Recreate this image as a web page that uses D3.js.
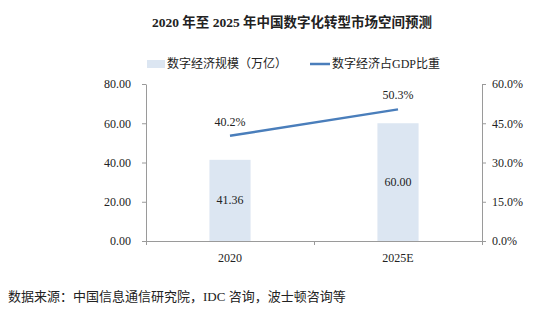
<!DOCTYPE html>
<html><head><meta charset="utf-8">
<script src="https://cdn.jsdelivr.net/npm/d3@7"></script>
<style>
html,body{margin:0;padding:0;background:#fff;}
svg{display:block;}
text{font-family:"Liberation Serif","Noto Sans CJK SC",serif;fill:#222;}
</style></head>
<body>
<svg id="c" width="551" height="335"></svg>
<script>
const title = "2020 年至 2025 年中国数字化转型市场空间预测";
const categories = ["2020", "2025E"];
const scaleValues = [41.36, 60.00];          // 数字经济规模（万亿）
const gdpShare = [0.402, 0.503];             // 数字经济占GDP比重
const leftTicks = [0, 20, 40, 60, 80];
const rightTicks = [0, 0.15, 0.30, 0.45, 0.60];
const seriesNames = ["数字经济规模（万亿）", "数字经济占GDP比重"];
const source = "数据来源：中国信息通信研究院，IDC 咨询，波士顿咨询等";

const svg = d3.select("#c");
const L = 146, R = 482, B = 241, T = 84;
const axisColor = "#9a9a9a";
const barColor = "#dce6f2";
const lineColor = "#4a7ebb";

const x = d3.scaleBand().domain(categories).range([L, R]).padding(0);
const yL = d3.scaleLinear().domain([0, 80]).range([B, T]);
const yR = d3.scaleLinear().domain([0, 0.6]).range([B, T]);

// title
svg.append("text").attr("x", 292).attr("y", 27).attr("text-anchor", "middle")
  .style("font-size", "13.5px").style("font-weight", "bold").text(title);

// legend
const lg = svg.append("g");
lg.append("rect").attr("x", 147).attr("y", 60).attr("width", 18).attr("height", 8).attr("fill", barColor);
lg.append("text").attr("x", 167).attr("y", 68).style("font-size", "12px").text(seriesNames[0]);
lg.append("line").attr("x1", 310).attr("x2", 330).attr("y1", 64).attr("y2", 64)
  .attr("stroke", lineColor).attr("stroke-width", 2.5);
lg.append("text").attr("x", 332).attr("y", 68).style("font-size", "12px").text(seriesNames[1]);

// bars
const bw = x.bandwidth() * 0.245;
svg.append("g").selectAll("rect").data(categories).join("rect")
  .attr("x", (d) => x(d) + x.bandwidth() / 2 - bw / 2)
  .attr("width", bw)
  .attr("y", (d, i) => yL(scaleValues[i]))
  .attr("height", (d, i) => B - yL(scaleValues[i]))
  .attr("fill", barColor);

// bar labels
svg.append("g").selectAll("text").data(categories).join("text")
  .attr("x", (d) => x(d) + x.bandwidth() / 2)
  .attr("y", (d, i) => (yL(scaleValues[i]) + B) / 2 + 4)
  .attr("text-anchor", "middle").style("font-size", "12px")
  .text((d, i) => d3.format(".2f")(scaleValues[i]));

// axes
function styleAxis(g) {
  g.selectAll("path,line").attr("stroke", axisColor);
  g.selectAll("text").style("font-size", "12px").attr("fill", "#222");
}
svg.append("g").attr("transform", `translate(${L},0)`)
  .call(d3.axisLeft(yL).tickValues(leftTicks).tickSize(4).tickSizeOuter(0).tickPadding(11).tickFormat(d3.format(".2f")))
  .call(styleAxis);
svg.append("g").attr("transform", `translate(${R},0)`)
  .call(d3.axisRight(yR).tickValues(rightTicks).tickSize(4).tickSizeOuter(0).tickPadding(6).tickFormat(d3.format(".1%")))
  .call(styleAxis);
const xa = svg.append("g").attr("transform", `translate(0,${B})`)
  .call(d3.axisBottom(x).tickSize(0).tickPadding(12))
  .call(styleAxis);
xa.selectAll(".bnd").data([L, x("2025E"), R]).join("line").attr("class", "bnd")
  .attr("x1", (d) => Math.round(d) + 0.5).attr("x2", (d) => Math.round(d) + 0.5)
  .attr("y1", 0).attr("y2", 4).attr("stroke", axisColor);

// line
const pts = categories.map((c, i) => [x(c) + x.bandwidth() / 2, yR(gdpShare[i])]);
svg.append("path").attr("d", d3.line()(pts)).attr("fill", "none")
  .attr("stroke", lineColor).attr("stroke-width", 2.5);
svg.append("g").selectAll("text").data(pts).join("text")
  .attr("x", (d) => d[0]).attr("y", (d) => d[1] - 10)
  .attr("text-anchor", "middle").style("font-size", "12px")
  .text((d, i) => d3.format(".1%")(gdpShare[i]));

// source
svg.append("text").attr("x", 8).attr("y", 301).style("font-size", "13px").text(source);
</script>
</body></html>
